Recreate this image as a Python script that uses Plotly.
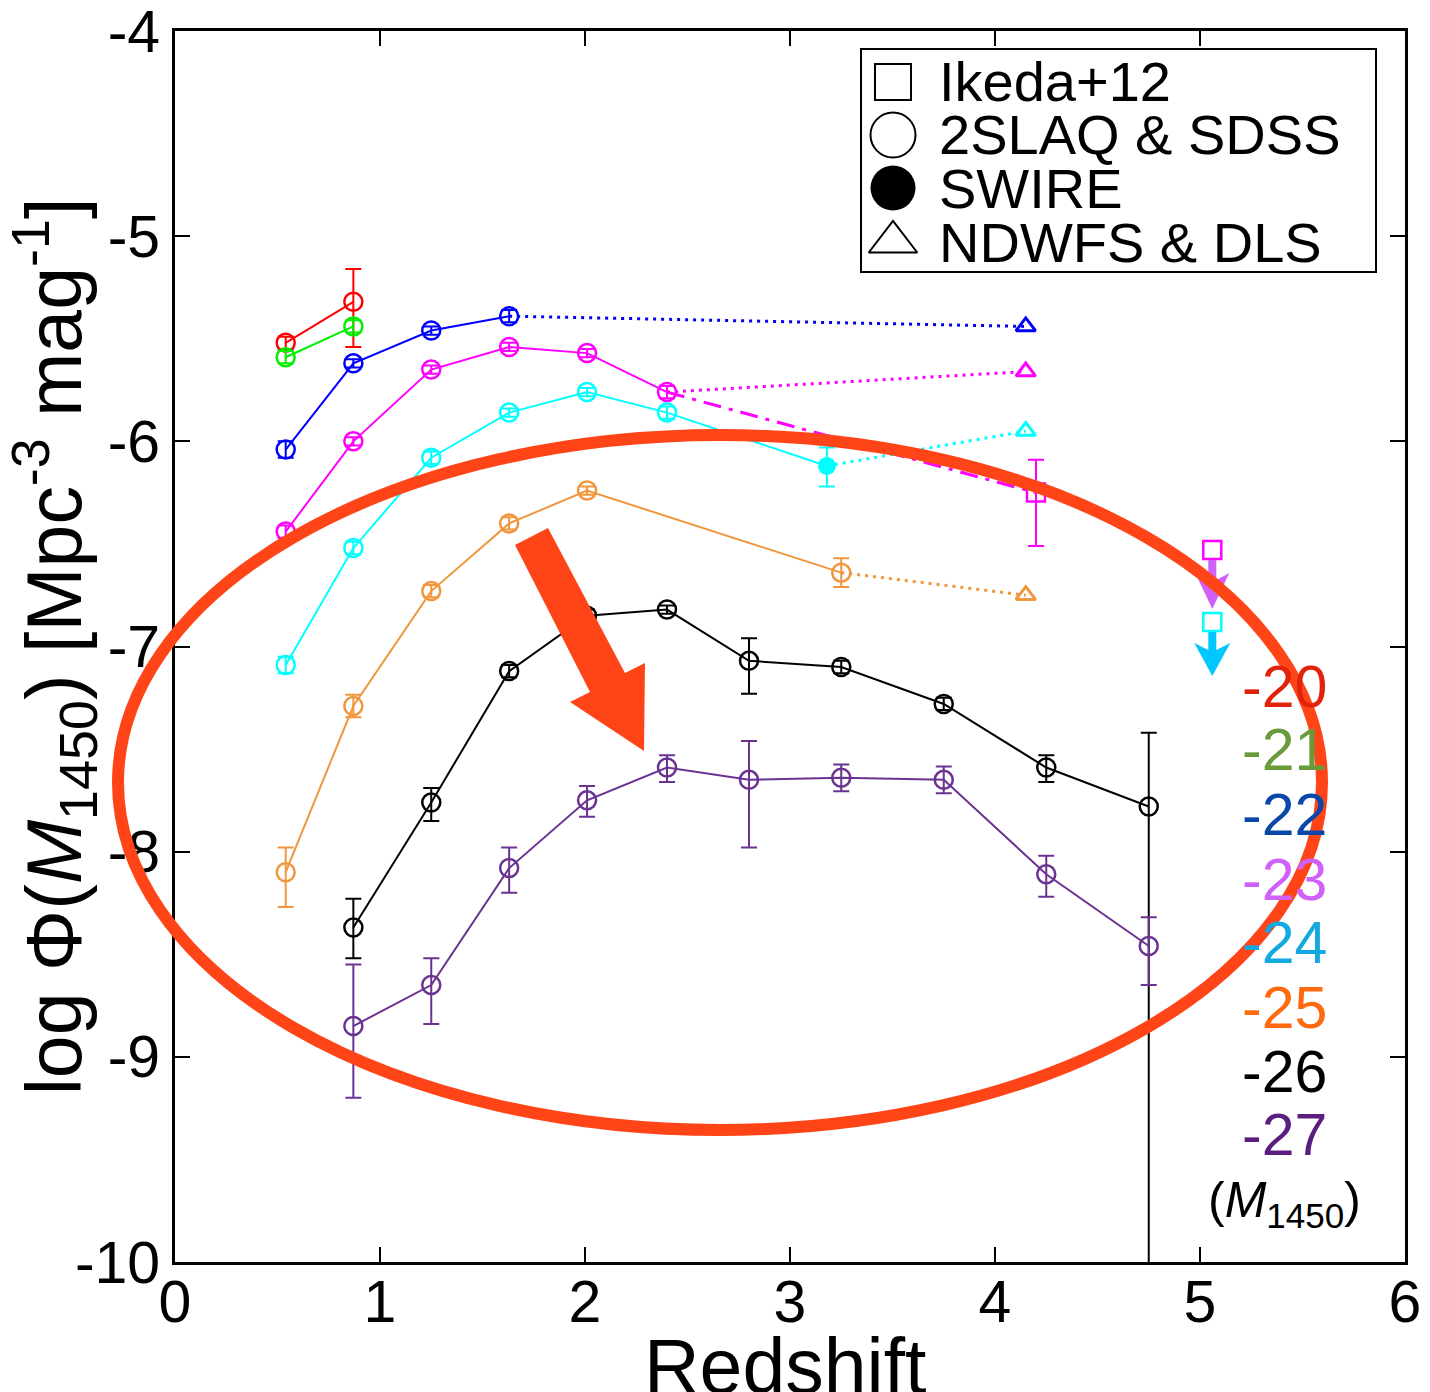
import plotly.graph_objects as go

# ---------------- data ----------------
# 2SLAQ & SDSS (open circles), per M1450 bin
z_m20 = [0.54, 0.87]
phi_m20 = [-5.52, -5.32]
eu_m20 = [0.03, 0.16]
ed_m20 = [0.03, 0.22]

z_m21 = [0.54, 0.87]
phi_m21 = [-5.59, -5.44]
eu_m21 = [0.03, 0.03]
ed_m21 = [0.03, 0.03]

z_m22 = [0.54, 0.87, 1.25, 1.63]
phi_m22 = [-6.04, -5.62, -5.46, -5.39]
eu_m22 = [0.04, 0.02, 0.02, 0.03]
ed_m22 = [0.04, 0.02, 0.02, 0.03]

z_m23 = [0.54, 0.87, 1.25, 1.63, 2.01, 2.40]
phi_m23 = [-6.44, -6.00, -5.65, -5.54, -5.57, -5.76]
eu_m23 = [0.03, 0.02, 0.02, 0.02, 0.02, 0.03]
ed_m23 = [0.03, 0.02, 0.02, 0.02, 0.02, 0.03]

z_m24 = [0.54, 0.87, 1.25, 1.63, 2.01, 2.40]
phi_m24 = [-7.09, -6.52, -6.08, -5.86, -5.76, -5.86]
eu_m24 = [0.04, 0.03, 0.03, 0.02, 0.02, 0.03]
ed_m24 = [0.04, 0.03, 0.03, 0.02, 0.02, 0.03]

z_m25 = [0.54, 0.87, 1.25, 1.63, 2.01, 3.25]
phi_m25 = [-8.10, -7.29, -6.73, -6.40, -6.24, -6.64]
eu_m25 = [0.12, 0.055, 0.03, 0.03, 0.02, 0.07]
ed_m25 = [0.17, 0.055, 0.03, 0.03, 0.02, 0.07]

z_m26 = [0.87, 1.25, 1.63, 2.01, 2.40, 2.80, 3.25, 3.75, 4.25, 4.75]
phi_m26 = [-8.37, -7.76, -7.12, -6.85, -6.82, -7.07, -7.10, -7.28, -7.59, -7.78]
eu_m26 = [0.14, 0.07, 0.03, 0.03, 0.02, 0.11, 0.03, 0.03, 0.06, 0.36]
ed_m26 = [0.15, 0.09, 0.03, 0.03, 0.02, 0.16, 0.03, 0.03, 0.07, 3.0]

z_m27 = [0.87, 1.25, 1.63, 2.01, 2.40, 2.80, 3.25, 3.75, 4.25, 4.75]
phi_m27 = [-8.85, -8.65, -8.08, -7.75, -7.59, -7.65, -7.64, -7.65, -8.11, -8.46]
eu_m27 = [0.30, 0.13, 0.10, 0.07, 0.06, 0.19, 0.065, 0.065, 0.09, 0.14]
ed_m27 = [0.35, 0.19, 0.12, 0.08, 0.07, 0.33, 0.065, 0.065, 0.11, 0.19]

# NDWFS & DLS (open triangles) for M = -22, -23, -24, -25
z_ndwfs = 4.15
phi_ndwfs_m22 = -5.44
phi_ndwfs_m23 = -5.66
phi_ndwfs_m24 = -5.95
phi_ndwfs_m25 = -6.75

# SWIRE (filled circle), M = -24
z_swire = 3.18
phi_swire_m24 = -6.12
eu_swire = 0.09
ed_swire = 0.10

# Ikeda+12 (open squares), M = -23 detection and upper limits
z_ikeda = 4.20
phi_ikeda_m23 = -6.25
eu_ikeda = 0.16
ed_ikeda = 0.26
z_ikeda_lim = 5.06
phi_ikeda_lim_m23 = -6.53
phi_ikeda_lim_m24 = -6.88

x_ticks = [0, 1, 2, 3, 4, 5, 6]
x_ticktext = ["0", "1", "2", "3", "4", "5", "6"]
y_ticks = [-10, -9, -8, -7, -6, -5, -4]
y_ticktext = ["-10", "-9", "-8", "-7", "-6", "-5", "-4"]

x_title = "Redshift"
y_title = "log Φ(<i>M</i><sub>1450</sub>) [Mpc<sup>-3</sup> mag<sup>-1</sup>]"
mag_labels = ["-20", "-21", "-22", "-23", "-24", "-25", "-26", "-27"]
legend_labels = ["Ikeda+12", "2SLAQ & SDSS", "SWIRE", "NDWFS & DLS"]
legend_symbols = ["square-open", "circle-open", "circle", "triangle-up-open"]

# ---------------- style ----------------
C20, C21, C22, C23 = "#FF0000", "#00F000", "#0000FF", "#FF00FF"
C24, C25, C26, C27 = "#00FFFF", "#F0963C", "#000000", "#6A3291"
LABEL_COLORS = ["#E2230C", "#6A9A3A", "#0A48A8", "#D060F8",
                "#12A8E0", "#FF6A10", "#000000", "#5A1E80"]
ANNOT = "#FF4518"
FONT = "Liberation Sans, Arial, Helvetica, sans-serif"

W, H = 1430, 1392
ML, MR, MT, MB = 175, 25, 31, 130
PW, PH = W - ML - MR, H - MT - MB


def px(xp):
    return (xp - ML) / PW


def py(yp):
    return (H - MB - yp) / PH


fig = go.Figure()


def series(z, phi, eu, ed, color):
    fig.add_trace(go.Scatter(
        x=z, y=phi, mode="lines+markers",
        line=dict(color=color, width=2),
        marker=dict(symbol="circle-open", size=18, color=color,
                    line=dict(width=2.5, color=color)),
        error_y=dict(type="data", symmetric=False, array=eu, arrayminus=ed,
                     color=color, thickness=2, width=8),
        showlegend=False, cliponaxis=True))


def conn(x, y, color, dash):
    fig.add_trace(go.Scatter(x=x, y=y, mode="lines",
                             line=dict(color=color, width=3, dash=dash),
                             showlegend=False))


DOT = "3px,5px"
DASHDOT = "18px,8px,4px,8px"

# connecting dotted / dash-dot lines
conn([z_m22[-1], z_ndwfs], [phi_m22[-1], phi_ndwfs_m22], C22, DOT)
conn([z_m23[-1], z_ndwfs], [phi_m23[-1], phi_ndwfs_m23], C23, DOT)
conn([z_m23[-1], z_ikeda], [phi_m23[-1], phi_ikeda_m23], C23, DASHDOT)
fig.add_trace(go.Scatter(x=[z_m24[-1], z_swire], y=[phi_m24[-1], phi_swire_m24],
                         mode="lines", line=dict(color=C24, width=2),
                         showlegend=False))
conn([z_swire, z_ndwfs], [phi_swire_m24, phi_ndwfs_m24], C24, DOT)
conn([z_m25[-1], z_ndwfs], [phi_m25[-1], phi_ndwfs_m25], C25, DOT)

series(z_m20, phi_m20, eu_m20, ed_m20, C20)
series(z_m21, phi_m21, eu_m21, ed_m21, C21)
series(z_m22, phi_m22, eu_m22, ed_m22, C22)
series(z_m23, phi_m23, eu_m23, ed_m23, C23)
series(z_m24, phi_m24, eu_m24, ed_m24, C24)
series(z_m25, phi_m25, eu_m25, ed_m25, C25)
series(z_m26, phi_m26, eu_m26, ed_m26, C26)
series(z_m27, phi_m27, eu_m27, ed_m27, C27)

# NDWFS triangles
for phi, col in [(phi_ndwfs_m22, C22), (phi_ndwfs_m23, C23),
                 (phi_ndwfs_m24, C24), (phi_ndwfs_m25, C25)]:
    fig.add_trace(go.Scatter(x=[z_ndwfs], y=[phi], mode="markers",
                             marker=dict(symbol="triangle-up-open", size=17, color=col,
                                         line=dict(width=3, color=col)),
                             showlegend=False))

# SWIRE
fig.add_trace(go.Scatter(x=[z_swire], y=[phi_swire_m24], mode="markers",
                         marker=dict(symbol="circle", size=18, color=C24),
                         error_y=dict(type="data", symmetric=False, array=[eu_swire],
                                      arrayminus=[ed_swire], color=C24, thickness=2, width=8),
                         showlegend=False))

# Ikeda+12
fig.add_trace(go.Scatter(x=[z_ikeda], y=[phi_ikeda_m23], mode="markers",
                         marker=dict(symbol="square-open", size=18, color=C23,
                                     line=dict(width=2.5, color=C23)),
                         error_y=dict(type="data", symmetric=False, array=[eu_ikeda],
                                      arrayminus=[ed_ikeda], color=C23, thickness=2, width=8),
                         showlegend=False))
for phi, col in [(phi_ikeda_lim_m23, C23), (phi_ikeda_lim_m24, C24)]:
    fig.add_trace(go.Scatter(x=[z_ikeda_lim], y=[phi], mode="markers",
                             marker=dict(symbol="square-open", size=18, color=col,
                                         line=dict(width=2.5, color=col)),
                             showlegend=False))

shapes = []
# upper-limit arrows anchored at the Ikeda limit points (pixel offsets)
shapes.append(dict(type="path", xref="x", yref="y", xsizemode="pixel", ysizemode="pixel",
                   xanchor=z_ikeda_lim, yanchor=phi_ikeda_lim_m23,
                   path="M -4,-10 L 4,-10 L 4,-30 L 17,-23 L 0,-59 L -17,-23 L -4,-30 Z",
                   fillcolor="#D060F8", line=dict(width=0), layer="above"))
shapes.append(dict(type="path", xref="x", yref="y", xsizemode="pixel", ysizemode="pixel",
                   xanchor=z_ikeda_lim, yanchor=phi_ikeda_lim_m24,
                   path="M -4,-10 L 4,-10 L 4,-28 L 18,-21 L 0,-54 L -18,-21 L -4,-28 Z",
                   fillcolor="#00C8FF", line=dict(width=0), layer="above"))

# highlight ellipse
shapes.append(dict(type="circle", xref="paper", yref="paper",
                   x0=px(118), x1=px(1322), y0=py(1130), y1=py(435),
                   line=dict(color=ANNOT, width=12), layer="above"))
# big arrow
pts = [(515, 545), (548, 528), (625, 673), (645, 663), (644, 751), (570, 702), (590, 692)]
path = "M " + " L ".join(f"{px(a):.5f},{py(b):.5f}" for a, b in pts) + " Z"
shapes.append(dict(type="path", xref="paper", yref="paper", path=path,
                   fillcolor=ANNOT, line=dict(width=0), layer="above"))
# legend box
shapes.append(dict(type="rect", xref="paper", yref="paper",
                   x0=px(861), x1=px(1376), y0=py(272), y1=py(49),
                   line=dict(color="black", width=2), fillcolor="white", layer="below"))

annotations = []
legend_rows = [82, 135, 188, 242]
for lab, yp in zip(legend_labels, legend_rows):
    annotations.append(dict(xref="paper", yref="paper", x=px(937), y=py(yp),
                            text=lab, showarrow=False, xanchor="left", yanchor="middle",
                            font=dict(family=FONT, size=56, color="black")))

# legend symbols on hidden overlay axes (paper-like 0..1)
leg_sizes = [36, 45, 45, 42]
leg_lw = [2, 2, 0, 2]
for sym, yp, s, lw in zip(legend_symbols, legend_rows, leg_sizes, leg_lw):
    fig.add_trace(go.Scatter(x=[px(893)], y=[py(yp)], xaxis="x2", yaxis="y2",
                             mode="markers",
                             marker=dict(symbol=sym, size=s, color="black",
                                         line=dict(width=lw, color="black")),
                             showlegend=False, cliponaxis=False))

label_rows = [687, 750, 815, 880, 943, 1008, 1072, 1135]
for lab, col, yp in zip(mag_labels, LABEL_COLORS, label_rows):
    annotations.append(dict(xref="paper", yref="paper", x=px(1329), y=py(yp),
                            text=lab, showarrow=False, xanchor="right", yanchor="middle",
                            font=dict(family=FONT, size=59, color=col)))
annotations.append(dict(xref="paper", yref="paper", x=px(1284), y=py(1203),
                        text="(<i>M</i><sub>1450</sub>)", showarrow=False,
                        xanchor="center", yanchor="middle",
                        font=dict(family=FONT, size=50, color="black")))
# x-axis title (placed lower than the margin allows for an axis title)
annotations.append(dict(xref="paper", yref="paper", x=px(785), y=py(1366),
                        text=x_title, showarrow=False, xanchor="center", yanchor="middle",
                        font=dict(family=FONT, size=77, color="black")))

axis_common = dict(showline=True, linewidth=3, linecolor="black", mirror="ticks",
                   ticks="inside", ticklen=15, tickwidth=2, tickcolor="black",
                   showgrid=False, zeroline=False, automargin=False,
                   ticklabeloverflow="allow",
                   tickfont=dict(family=FONT, size=59, color="black"))

fig.update_layout(
    width=W, height=H,
    margin=dict(l=ML, r=MR, t=MT, b=MB),
    paper_bgcolor="white", plot_bgcolor="white",
    xaxis=dict(range=[0, 6], tickmode="array", tickvals=x_ticks,
               ticktext=x_ticktext, ticklabelstandoff=-14,
               **axis_common),
    yaxis=dict(range=[-10, -4], tickmode="array", tickvals=y_ticks,
               ticktext=y_ticktext,
               title=dict(text=y_title,
                          font=dict(family=FONT, size=77, color="black"), standoff=14),
               **axis_common),
    xaxis2=dict(range=[0, 1], overlaying="x", visible=False),
    yaxis2=dict(range=[0, 1], overlaying="y", visible=False),
    shapes=shapes, annotations=annotations, showlegend=False,
)

fig.write_html("out.html")
